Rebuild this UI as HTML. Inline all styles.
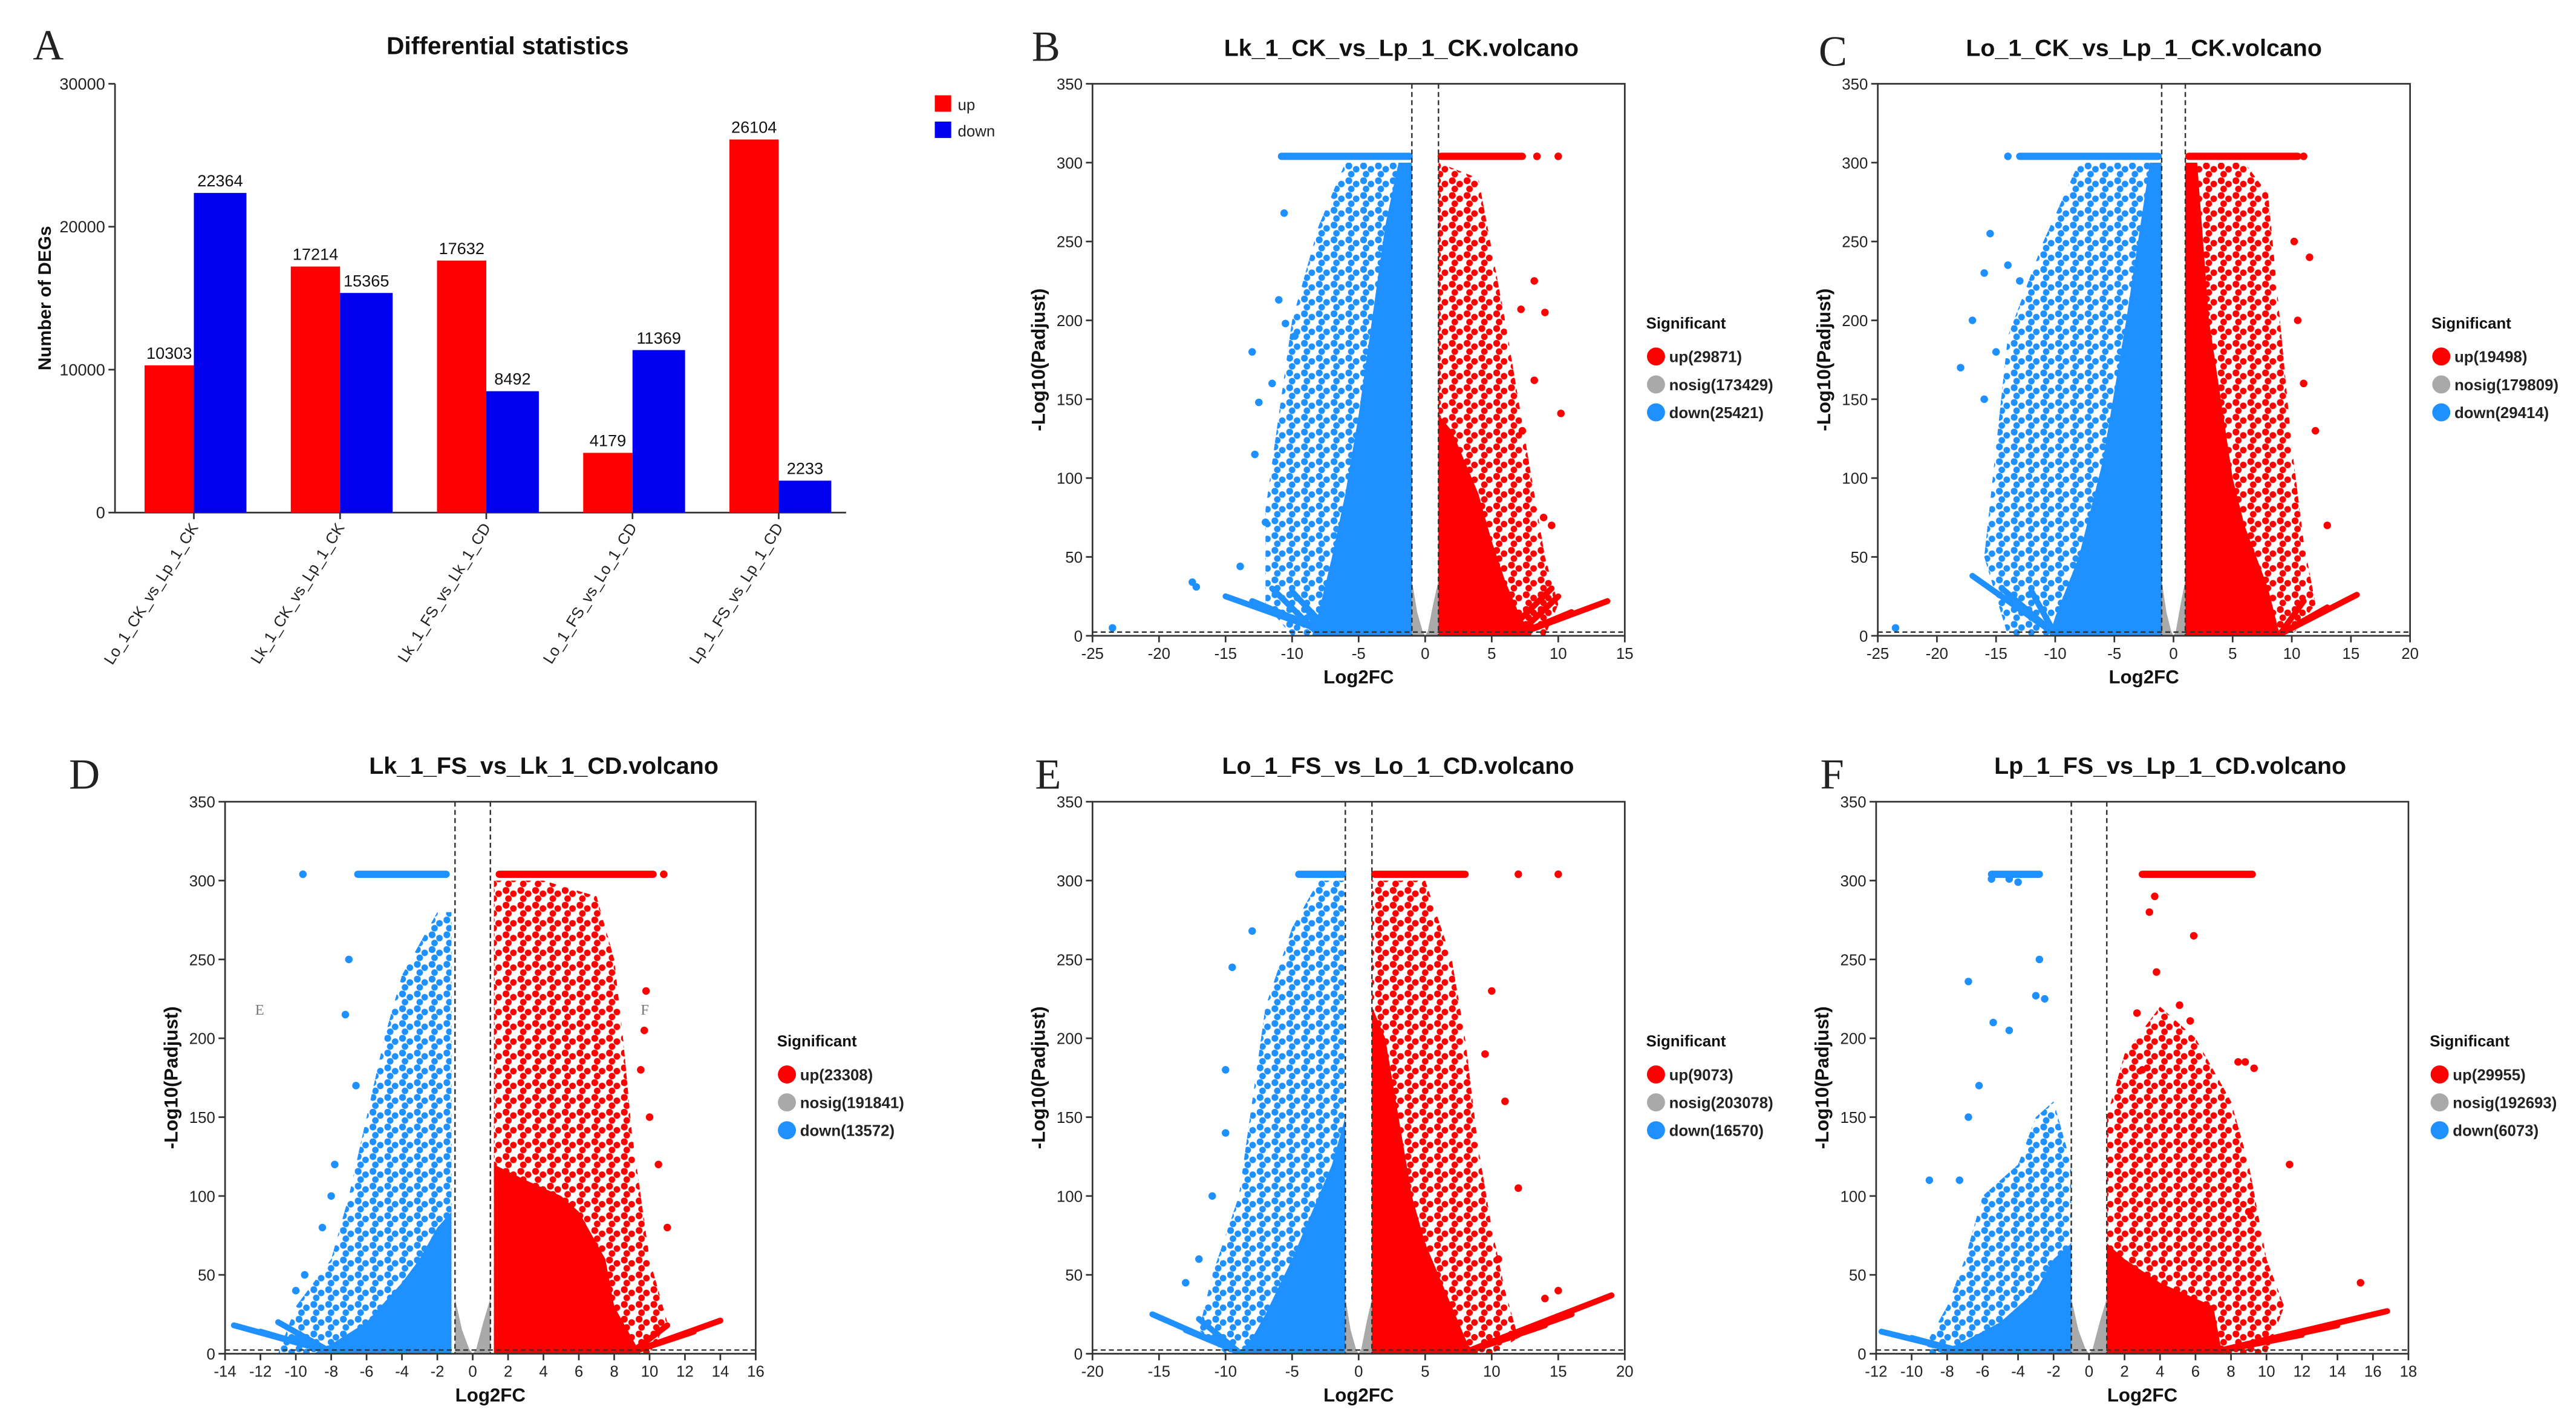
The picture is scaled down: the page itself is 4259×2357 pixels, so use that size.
<!DOCTYPE html>
<html><head><meta charset="utf-8"><style>
html,body{margin:0;padding:0;background:#fff;}
svg{display:block;font-family:"Liberation Sans",Arial,sans-serif;}
</style></head><body>
<svg id="fig" width="4259" height="2357" viewBox="0 0 1568 868" preserveAspectRatio="none">
<defs>
<pattern id="pat-red" width="9" height="9" patternUnits="userSpaceOnUse"><circle cx="2" cy="2" r="2.1" fill="#ff0000"/><circle cx="6.5" cy="4" r="2" fill="#ff0000"/><circle cx="3.5" cy="7" r="2" fill="#ff0000"/></pattern>
<pattern id="pat-blue" width="9" height="9" patternUnits="userSpaceOnUse"><circle cx="2" cy="2" r="2.1" fill="#1e90ff"/><circle cx="6.5" cy="4" r="2" fill="#1e90ff"/><circle cx="3.5" cy="7" r="2" fill="#1e90ff"/></pattern>
</defs>
</svg>
<script>
// ---------- Bar chart data ----------
const barCategories = ["Lo_1_CK_vs_Lp_1_CK","Lk_1_CK_vs_Lp_1_CK","Lk_1_FS_vs_Lk_1_CD","Lo_1_FS_vs_Lo_1_CD","Lp_1_FS_vs_Lp_1_CD"];
const barUp = [10303,17214,17632,4179,26104];
const barDown = [22364,15365,8492,11369,2233];
const barTicks = [0,10000,20000,30000];

// ---------- Volcano data (B) ----------
const bDownDense = [[-1,0],[-1,300],[-2,300],[-3,260],[-4,200],[-5,140],[-6,90],[-7,50],[-8,15],[-8.5,0]];
const bDownSparse = [[-1,0],[-1,300],[-6,300],[-8,260],[-10,200],[-11,140],[-12,80],[-12,20],[-10,0]];
const bUpDense = [[1,0],[1,140],[2,130],[3,110],[4,90],[5,60],[6,35],[7,15],[8,0]];
const bUpSparse = [[1,0],[1,300],[4,290],[6,200],[7,150],[8,100],[9,50],[10,20],[9,0]];
const bCapDown = [-10.8,-1.2]; const bCapUp = [1.2,7.3];
const bRaysDown = [[-7,-15,25],[-7,-13,22],[-8,-11.5,30],[-7,-10,28],[-8,-9,20]];
const bRaysUp = [[7,13.7,22],[7,11,15],[7,10,25],[6,9.5,30]];
const bOutDown = [[-23.5,5],[-17.5,34],[-17.2,31],[-13.9,44],[-13,180],[-12.8,115],[-12,72],[-10.6,268],[-11,213],[-10.5,198],[-9.8,190],[-12.5,148],[-11.5,160]];
const bOutUp = [[8.4,304],[10,304],[9,205],[8.2,225],[7.2,207],[10.2,141],[8.2,162],[7.3,130],[9.5,70],[8.9,75]];

// ---------- C ----------
const cDownDense = [[-1,0],[-1,300],[-2,300],[-3,250],[-4,200],[-6,110],[-8,50],[-10,12],[-10.5,0]];
const cDownSparse = [[-1,0],[-1,300],[-8,300],[-11,250],[-14,190],[-15,120],[-16,50],[-14,0]];
const cUpDense = [[1,0],[1,300],[2,300],[3,200],[4,150],[5,100],[6,70],[8,30],[9,0]];
const cUpSparse = [[1,0],[1,300],[6,300],[8,280],[9,200],[10,120],[11,60],[12,20],[10,0]];
const cCapDown = [-13,-1.3]; const cCapUp = [1.3,10.5];
const cRaysDown = [[-10,-17,38],[-10,-14.5,30],[-10,-13,20],[-10,-12,28]];
const cRaysUp = [[9,15.5,26],[9,13,18],[9,11,22]];
const cOutDown = [[-23.5,5],[-14,304],[-15.5,255],[-16,230],[-14,235],[-13,225],[-17,200],[-15,180],[-18,170],[-16,150]];
const cOutUp = [[11,304],[11.5,240],[10.5,200],[12,130],[11,160],[13,70],[10.2,250]];

// ---------- D ----------
const dDownDense = [[-1.2,0],[-1.2,90],[-2,80],[-3,60],[-4,45],[-6,20],[-8,6],[-9,0]];
const dDownSparse = [[-1.2,0],[-1.2,280],[-2,280],[-4,240],[-5,200],[-6,150],[-7,100],[-8,60],[-10,30],[-11,0]];
const dUpDense = [[1.2,0],[1.2,120],[3,110],[5,100],[6,90],[7.5,60],[8,30],[9,10],[9.5,0]];
const dUpSparse = [[1.2,0],[1.2,300],[4,300],[7,290],[8,250],[8.5,200],[9,140],[10,60],[11,20],[10,0]];
const dCapDown = [-6.5,-1.5]; const dCapUp = [1.5,10.2];
const dRaysDown = [[-8,-13.5,18],[-8,-12,14],[-8,-11,20],[-8,-10,10]];
const dRaysUp = [[9,14,21],[9,12.5,14],[9,11,18]];
const dOutDown = [[-9.6,304],[-7.2,215],[-6.6,170],[-7.8,120],[-8,100],[-9.5,50],[-10,40],[-7,250],[-8.5,80]];
const dOutUp = [[10.8,304],[9.8,230],[9.7,205],[10,150],[10.5,120],[11,80],[9.5,180]];

// ---------- E ----------
const eDownDense = [[-1,0],[-1,150],[-2,120],[-3,100],[-5,60],[-7,25],[-8,10],[-9,0]];
const eDownSparse = [[-1,0],[-1,300],[-3,300],[-5,270],[-7,220],[-8,160],[-9,100],[-11,50],[-12,15],[-10,0]];
const eUpDense = [[1,0],[1,220],[2,200],[3,150],[4,100],[5,70],[7,30],[8,10],[8.5,0]];
const eUpSparse = [[1,0],[1,300],[5,300],[7,250],[8,200],[9,130],[10,80],[11,40],[12,10],[10,0]];
const eCapDown = [-4.5,-1.2]; const eCapUp = [1.2,8];
const eRaysDown = [[-9,-15.5,25],[-9,-13,15],[-9,-12,22],[-9,-11,10]];
const eRaysUp = [[8,19,37],[8,16,25],[8,14,18],[8,12,12]];
const eOutDown = [[-8,268],[-9.5,245],[-10,140],[-11,100],[-12,60],[-13,45],[-10,180]];
const eOutUp = [[15,304],[12,304],[10,230],[11,160],[12,105],[9.5,190],[10.5,60],[14,35],[15,40]];

// ---------- F ----------
const fDownDense = [[-1,0],[-1,70],[-2,60],[-3,40],[-5,20],[-7,8],[-8,3],[-8.5,0]];
const fDownSparse = [[-1,0],[-1,120],[-2,160],[-3,150],[-4,120],[-6,100],[-7,60],[-8,30],[-9,10],[-9,0]];
const fUpDense = [[1,0],[1,70],[2,60],[4,45],[6,35],[7,30],[7.5,0]];
const fUpSparse = [[1,0],[1,150],[2,190],[4,220],[6,200],[8,160],[9,120],[10,60],[11,30],[10,0]];
const fCapDown = [-5.5,-2.8]; const fCapUp = [3,9.2];
const fRaysDown = [[-7,-11.7,14],[-7,-10,10],[-7,-9,6]];
const fRaysUp = [[7,16.8,27],[7,14,18],[7,12,12],[7,10,9]];
const fOutDown = [[-5.5,301],[-4.5,301],[-4,299],[-2.8,250],[-6.8,236],[-3,227],[-2.5,225],[-5.4,210],[-4.5,205],[-6.2,170],[-6.8,150],[-9,110],[-7.3,110]];
const fOutUp = [[3.7,290],[3.4,280],[5.9,265],[3.8,242],[2.7,216],[5.1,221],[5.7,211],[8.4,185],[8.8,185],[9.3,181],[3,180],[11.3,120],[15.3,45],[9,90]];

const grayEnv = [[-1,0],[-1,35],[-0.6,15],[-0.2,3],[0,0],[0.2,3],[0.6,20],[1,35],[1,0]];

const NS = 'http://www.w3.org/2000/svg';
const svg = document.getElementById('fig');
function mk(tag, attrs, parent) {
  const e = document.createElementNS(NS, tag);
  for (const k in attrs) e.setAttribute(k, attrs[k]);
  (parent || svg).appendChild(e);
  return e;
}
function txt(s, attrs, name, parent) {
  const t = mk('text', attrs, parent);
  t.textContent = s;
  
  
  return t;
}

// ---------- Panel letters ----------
const letters = [["A",20,36],["B",628,37],["C",1107,40],["D",42,480],["E",630,480],["F",1108,480]];
letters.forEach(l => {
  txt(l[0], {x:l[1], y:l[2], 'font-family':'"Liberation Serif",serif', 'font-size':26, fill:'#222'}, 'panel-label-' + l[0].toLowerCase());
});

// ---------- Bar chart ----------
(function(){
  const g = mk('g', {});
  
  
  const X0 = 70, X1 = 515, Y0 = 312, Y1 = 51, max = 30000;
  const y = v => Y0 - v / max * (Y0 - Y1);
  const pitch = 89, start = 88;
  txt('Differential statistics', {x:309, y:33, 'text-anchor':'middle', 'font-size':15, 'font-weight':'bold', fill:'#111'}, 'chart-title', g);
  const ax = mk('path', {d:`M${X0} ${Y1}V${Y0}H${X1}`, stroke:'#333', 'stroke-width':1, fill:'none'}, g);
  
  
  barTicks.forEach(t => {
    mk('line', {x1:X0-4, x2:X0, y1:y(t), y2:y(t), stroke:'#333'}, g);
    txt(String(t), {x:X0-6, y:y(t)+3.5, 'text-anchor':'end', 'font-size':10, fill:'#222'}, 'y-tick-label', g);
  });
  txt('Number of DEGs', {x:0, y:0, transform:`translate(31,${(Y0+Y1)/2}) rotate(-90)`, 'text-anchor':'middle', 'font-size':11, 'font-weight':'bold', fill:'#111'}, 'y-axis-title', g);
  barCategories.forEach((c, i) => {
    const xs = start + i * pitch;
    const r = mk('rect', {x:xs, y:y(barUp[i]), width:30, height:Y0 - y(barUp[i]), fill:'#ff0000'}, g);
    
    
    const b = mk('rect', {x:xs+30, y:y(barDown[i]), width:32, height:Y0 - y(barDown[i]), fill:'#0000ee'}, g);
    
    
    txt(String(barUp[i]), {x:xs+15, y:y(barUp[i])-4, 'text-anchor':'middle', 'font-size':10, fill:'#111'}, 'value-label-up', g);
    txt(String(barDown[i]), {x:xs+46, y:y(barDown[i])-4, 'text-anchor':'middle', 'font-size':10, fill:'#111'}, 'value-label-down', g);
    mk('line', {x1:xs+30, x2:xs+30, y1:Y0, y2:Y0+4, stroke:'#333'}, g);
    txt(c, {x:0, y:0, transform:`translate(${xs+33},${Y0+9}) rotate(-58)`, 'text-anchor':'end', 'font-size':9.5, fill:'#222'}, 'x-tick-label', g);
  });
  const lr = mk('rect', {x:569, y:58, width:10, height:10, fill:'#ff0000'}, g);
  
  
  txt('up', {x:583, y:67, 'font-size':9.5, fill:'#222'}, 'legend-label-up', g);
  const lb = mk('rect', {x:569, y:74, width:10, height:10, fill:'#0000ee'}, g);
  
  
  txt('down', {x:583, y:83, 'font-size':9.5, fill:'#222'}, 'legend-label-down', g);
})();

// ---------- Volcano ----------
const RED = '#ff0000', BLUE = '#1e90ff', GRAY = '#a9a9a9';
function volcano(p) {
  const g = mk('g', {});
  
  
  const x = v => p.px0 + (v - p.xmin) / (p.xmax - p.xmin) * (p.px1 - p.px0);
  const y = v => p.py0 - v / 350 * (p.py0 - p.py1);
  const clip = mk('clipPath', {id:'clip-' + p.name}, g);
  mk('rect', {x:p.px0, y:p.py1, width:p.px1 - p.px0, height:p.py0 - p.py1}, clip);
  const pg = mk('g', {'clip-path':`url(#clip-${p.name})`}, g);
  const poly = (arr, fill, name) => {
    const e = mk('polygon', {points: arr.map(q => x(q[0]) + ',' + y(q[1])).join(' '), fill: fill}, pg);
    
    
  };
  poly(p.downSparse, 'url(#pat-blue)', 'down-sparse-points');
  poly(p.upSparse, 'url(#pat-red)', 'up-sparse-points');
  poly(p.downDense, BLUE, 'down-dense-points');
  poly(p.upDense, RED, 'up-dense-points');
  poly(grayEnv, GRAY, 'nosig-points');
  const ray = (r, col, name) => {
    const e = mk('line', {x1:x(r[0]), y1:y(1), x2:x(r[1]), y2:y(r[2]), stroke:col, 'stroke-width':3.6, 'stroke-linecap':'round'}, pg);
    
    
  };
  p.raysDown.forEach(r => ray(r, BLUE, 'down-ray'));
  p.raysUp.forEach(r => ray(r, RED, 'up-ray'));
  const cap = (c, col, name) => {
    const e = mk('line', {x1:x(c[0]), x2:x(c[1]), y1:y(304), y2:y(304), stroke:col, 'stroke-width':4.4, 'stroke-linecap':'round'}, pg);
    
    
  };
  cap(p.capDown, BLUE, 'down-capped-points');
  cap(p.capUp, RED, 'up-capped-points');
  const pts = (arr, col, name) => arr.forEach(q => {
    const c = mk('circle', {cx:x(q[0]), cy:y(q[1]), r:2.3, fill:col}, pg);
    
    
  });
  pts(p.outDown, BLUE, 'down-point');
  pts(p.outUp, RED, 'up-point');
  [-1, 1].forEach(v => mk('line', {x1:x(v), x2:x(v), y1:p.py1, y2:p.py0, stroke:'#333', 'stroke-width':0.9, 'stroke-dasharray':'3,2'}, g));
  mk('line', {x1:p.px0, x2:p.px1, y1:y(1.3)-1, y2:y(1.3)-1, stroke:'#333', 'stroke-width':0.9, 'stroke-dasharray':'3,2'}, g);
  const fr = mk('rect', {x:p.px0, y:p.py1, width:p.px1 - p.px0, height:p.py0 - p.py1, fill:'none', stroke:'#333', 'stroke-width':1}, g);
  
  
  for (let t = p.xmin; t <= p.xmax + 1e-9; t += p.xstep) {
    mk('line', {x1:x(t), x2:x(t), y1:p.py0, y2:p.py0 + 4, stroke:'#333'}, g);
    txt(String(t), {x:x(t), y:p.py0 + 14, 'text-anchor':'middle', 'font-size':9.5, fill:'#222'}, 'x-tick-label', g);
  }
  for (let t = 0; t <= 350; t += 50) {
    mk('line', {x1:p.px0 - 4, x2:p.px0, y1:y(t), y2:y(t), stroke:'#333'}, g);
    txt(String(t), {x:p.px0 - 6, y:y(t) + 3.5, 'text-anchor':'end', 'font-size':9.5, fill:'#222'}, 'y-tick-label', g);
  }
  txt('Log2FC', {x:(p.px0 + p.px1) / 2, y:p.py0 + 29, 'text-anchor':'middle', 'font-size':11.5, 'font-weight':'bold', fill:'#111'}, 'x-axis-title', g);
  txt('-Log10(Padjust)', {x:0, y:0, transform:`translate(${p.px0 - 29},${(p.py0 + p.py1) / 2}) rotate(-90)`, 'text-anchor':'middle', 'font-size':11.5, 'font-weight':'bold', fill:'#111'}, 'y-axis-title', g);
  txt(p.title, {x:p.tx, y:p.py1 - 17, 'text-anchor':'middle', 'font-size':14.5, 'font-weight':'bold', fill:'#111'}, 'plot-title', g);
  const lx = p.px1 + 13, ly = p.py0 - 187;
  txt('Significant', {x:lx, y:ly, 'font-size':9.5, 'font-weight':'bold', fill:'#111'}, 'legend-title', g);
  [[RED, p.leg[0]], [GRAY, p.leg[1]], [BLUE, p.leg[2]]].forEach((e, i) => {
    const c = mk('circle', {cx:lx + 6, cy:ly + 17 + i * 17, r:5.5, fill:e[0]}, g);
    
    
    txt(e[1], {x:lx + 14, y:ly + 20.5 + i * 17, 'font-size':9.5, 'font-weight':'bold', fill:'#222'}, 'legend-label', g);
  });
  return {g, x, y};
}

volcano({name:'volcano-b', title:'Lk_1_CK_vs_Lp_1_CK.volcano', tx:853, px0:665, px1:989, py0:387, py1:51, xmin:-25, xmax:15, xstep:5,
  downDense:bDownDense, downSparse:bDownSparse, upDense:bUpDense, upSparse:bUpSparse, capDown:bCapDown, capUp:bCapUp,
  raysDown:bRaysDown, raysUp:bRaysUp, outDown:bOutDown, outUp:bOutUp, leg:['up(29871)','nosig(173429)','down(25421)']});
volcano({name:'volcano-c', title:'Lo_1_CK_vs_Lp_1_CK.volcano', tx:1305, px0:1143, px1:1467, py0:387, py1:51, xmin:-25, xmax:20, xstep:5,
  downDense:cDownDense, downSparse:cDownSparse, upDense:cUpDense, upSparse:cUpSparse, capDown:cCapDown, capUp:cCapUp,
  raysDown:cRaysDown, raysUp:cRaysUp, outDown:cOutDown, outUp:cOutUp, leg:['up(19498)','nosig(179809)','down(29414)']});
const vd = volcano({name:'volcano-d', title:'Lk_1_FS_vs_Lk_1_CD.volcano', tx:331, px0:137, px1:460, py0:824, py1:488, xmin:-14, xmax:16, xstep:2,
  downDense:dDownDense, downSparse:dDownSparse, upDense:dUpDense, upSparse:dUpSparse, capDown:dCapDown, capUp:dCapUp,
  raysDown:dRaysDown, raysUp:dRaysUp, outDown:dOutDown, outUp:dOutUp, leg:['up(23308)','nosig(191841)','down(13572)']});
txt('E', {x:vd.x(-12.3), y:vd.y(215), 'font-family':'"Liberation Serif",serif', 'font-size':9, fill:'#777'}, 'annotation-e', vd.g);
txt('F', {x:vd.x(9.5), y:vd.y(215), 'font-family':'"Liberation Serif",serif', 'font-size':9, fill:'#777'}, 'annotation-f', vd.g);
volcano({name:'volcano-e', title:'Lo_1_FS_vs_Lo_1_CD.volcano', tx:851, px0:665, px1:989, py0:824, py1:488, xmin:-20, xmax:20, xstep:5,
  downDense:eDownDense, downSparse:eDownSparse, upDense:eUpDense, upSparse:eUpSparse, capDown:eCapDown, capUp:eCapUp,
  raysDown:eRaysDown, raysUp:eRaysUp, outDown:eOutDown, outUp:eOutUp, leg:['up(9073)','nosig(203078)','down(16570)']});
volcano({name:'volcano-f', title:'Lp_1_FS_vs_Lp_1_CD.volcano', tx:1321, px0:1142, px1:1466, py0:824, py1:488, xmin:-12, xmax:18, xstep:2,
  downDense:fDownDense, downSparse:fDownSparse, upDense:fUpDense, upSparse:fUpSparse, capDown:fCapDown, capUp:fCapUp,
  raysDown:fRaysDown, raysUp:fRaysUp, outDown:fOutDown, outUp:fOutUp, leg:['up(29955)','nosig(192693)','down(6073)']});
</script>
</body></html>
